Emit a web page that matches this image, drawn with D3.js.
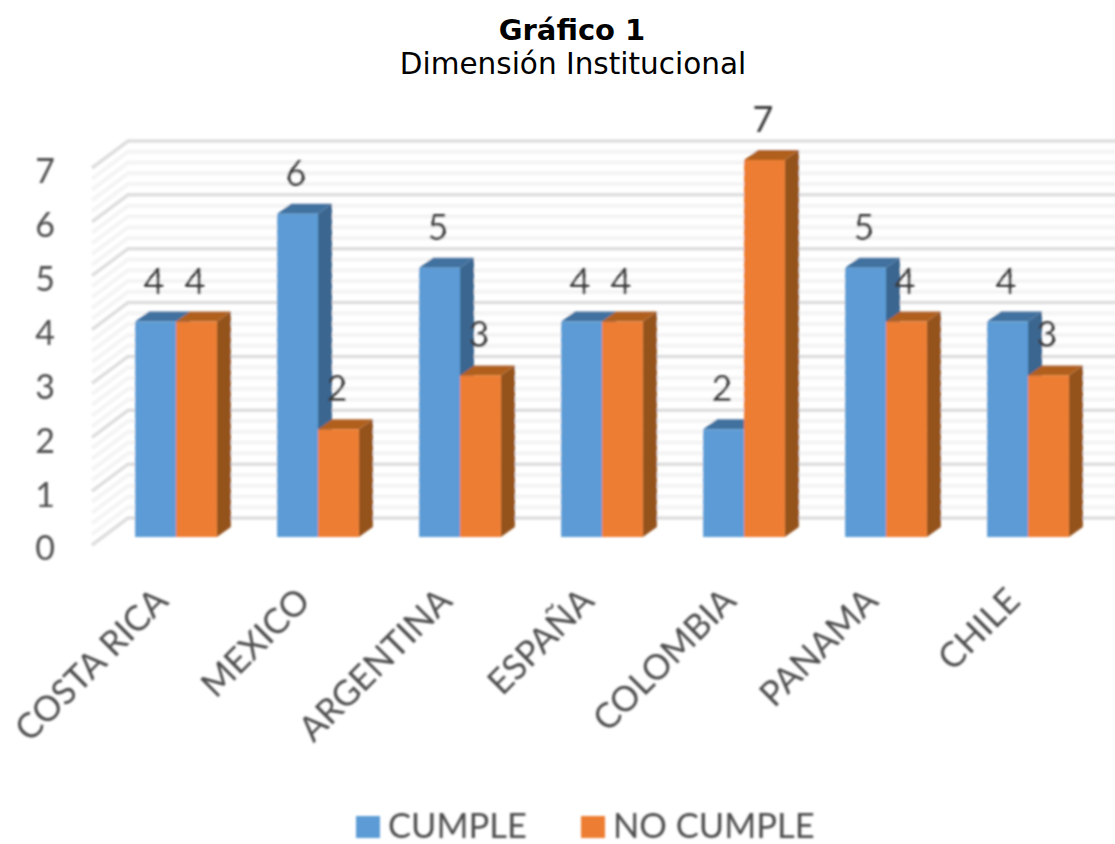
<!DOCTYPE html>
<html>
<head>
<meta charset="utf-8">
<script src="https://cdn.jsdelivr.net/npm/d3@7/dist/d3.min.js"></script>
<style>
  html, body { margin: 0; padding: 0; background: #fff; }
  svg { display: block; }
  .title { font-family: "DejaVu Sans", sans-serif; fill: #000; text-anchor: middle; }
  .lbl, .axis text, .legend text { font-family: Lato, sans-serif; fill: #4d4d4d; }
  .lbl { fill: #3a3a3a; }
</style>
</head>
<body>
<div id="chart"></div>
<script>
var categories = ['COSTA RICA', 'MEXICO', 'ARGENTINA', 'ESPAÑA', 'COLOMBIA', 'PANAMA', 'CHILE'];
var cumple = [4, 6, 5, 4, 2, 5, 4];
var noCumple = [4, 2, 3, 4, 7, 4, 3];
var seriesNames = ['CUMPLE', 'NO CUMPLE'];
var yTicks = [0, 1, 2, 3, 4, 5, 6, 7];

var width = 1115, height = 844;
var depthX = 14, depthY = 10;      // profundidad de las barras
var wallX = 36, wallBack = 19, wallFront = 8;

var colors = [
  { front: '#5b9bd5', side: '#3a6690', top: '#41719f' },
  { front: '#ed7d31', side: '#95521c', top: '#b0601f' }
];

var x = d3.scaleBand().domain(categories).range([105, 1099]).paddingInner(0.424).paddingOuter(0.212);
var x1 = d3.scaleBand().domain([0, 1]).range([0, x.bandwidth()]);
var y = d3.scaleLinear().domain([0, 7]).range([537, 160]);

var svg = d3.select('#chart').append('svg').attr('width', width).attr('height', height);
var soft = svg.append('defs').append('filter').attr('id', 'soft')
  .attr('filterUnits', 'userSpaceOnUse')
  .attr('x', 0).attr('y', 0).attr('width', width).attr('height', height);
soft.append('feGaussianBlur').attr('stdDeviation', 1);

// titulo
svg.append('text').attr('class', 'title').attr('x', 572).attr('y', 40)
  .attr('font-size', 29).attr('font-weight', 'bold').text('Gráfico 1');
svg.append('text').attr('class', 'title').attr('x', 573).attr('y', 74)
  .attr('font-size', 29.5).text('Dimensión Institucional');

var plot = svg.append('g').attr('filter', 'url(#soft)');

// rejilla: lineas mayores y 4 menores por unidad
var gridValues = d3.range(0, 35 + 1).map(function (d) { return d / 5; });
var grid = plot.append('g');
grid.selectAll('path')
  .data(gridValues)
  .enter()
  .append('path')
  .attr('fill', 'none')
  .attr('stroke', function (d) { return Number.isInteger(d) ? '#dedede' : '#f4f4f4'; })
  .attr('stroke-width', function (d) { return Number.isInteger(d) ? 3.5 : 4; })
  .attr('d', function (d) {
    var yy = y(d);
    return 'M' + (128 - wallX) + ',' + (yy + wallFront) +
      'L128,' + (yy - wallBack) + 'L' + (width + 5) + ',' + (yy - wallBack);
  });

function prism(sel, bx, by, bw, bh, c) {
  sel.append('path').attr('fill', c.side)
    .attr('d', 'M' + (bx + bw) + ',' + by + 'l' + depthX + ',' + (-depthY) + 'v' + bh + 'l' + (-depthX) + ',' + depthY + 'z');
  sel.append('path').attr('fill', c.top)
    .attr('d', 'M' + bx + ',' + by + 'l' + depthX + ',' + (-depthY) + 'h' + bw + 'l' + (-depthX) + ',' + depthY + 'z');
  sel.append('rect').attr('fill', c.front)
    .attr('x', bx).attr('y', by).attr('width', bw).attr('height', bh);
}

// barras
var groups = plot.selectAll('.cat')
  .data(categories)
  .enter()
  .append('g')
  .attr('class', 'cat');

groups.each(function (c, i) {
  var g = d3.select(this);
  [cumple[i], noCumple[i]].forEach(function (v, s) {
    prism(g.append('g'), x(c) + x1(s), y(v), x1.bandwidth(), y(0) - y(v), colors[s]);
  });
});

// ejes
var yAxis = plot.append('g').attr('class', 'axis')
  .attr('transform', 'translate(55,' + (wallFront + 4) + ')')
  .call(d3.axisLeft(y).tickValues(yTicks).tickSize(0).tickPadding(0).tickFormat(d3.format('d')));
yAxis.select('.domain').remove();
yAxis.selectAll('text').attr('font-size', 34);

var xAxis = plot.append('g').attr('class', 'axis')
  .attr('transform', 'translate(0,585)')
  .call(d3.axisBottom(x).tickSize(0).tickPadding(0));
xAxis.select('.domain').remove();
xAxis.selectAll('text')
  .attr('font-size', 35)
  .attr('text-anchor', 'end')
  .attr('dy', 0)
  .attr('y', 0)
  .attr('transform', 'translate(-6,18) rotate(-45)');

// etiquetas de valor
[cumple, noCumple].forEach(function (vals, s) {
  plot.selectAll('.lbl' + s)
    .data(vals)
    .enter()
    .append('text')
    .attr('class', 'lbl lbl' + s)
    .attr('text-anchor', 'middle')
    .attr('font-size', 36)
    .attr('x', function (d, i) { return x(categories[i]) + x1(s) + x1.bandwidth() / 2 - 1.5; })
    .attr('y', function (d) { return y(d) - 28; })
    .text(function (d) { return d; });
});

// leyenda
var legendX = [356, 581];
var legend = plot.selectAll('.legend')
  .data(seriesNames)
  .enter()
  .append('g')
  .attr('class', 'legend')
  .attr('transform', function (d, i) { return 'translate(' + legendX[i] + ',816)'; });
legend.append('rect').attr('width', 24).attr('height', 22)
  .attr('fill', function (d, i) { return colors[i].front; });
legend.append('text').attr('x', 32).attr('y', 22).attr('font-size', 34.5)
  .text(function (d) { return d; });
</script>
</body>
</html>
